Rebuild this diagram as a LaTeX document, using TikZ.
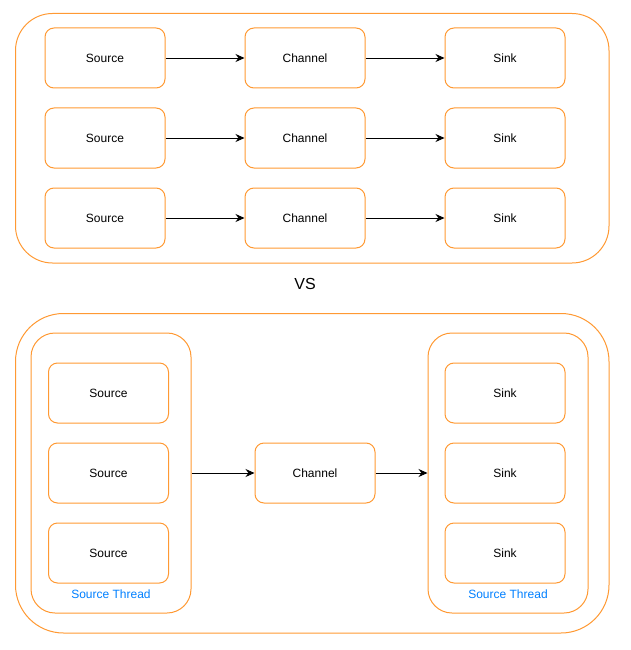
\documentclass[tikz,border=0pt]{standalone}
\usepackage{fontspec}
\setmainfont{Liberation Sans}
\usetikzlibrary{arrows.meta}
\definecolor{boxorange}{HTML}{FF9933}
\definecolor{threadblue}{HTML}{007FFF}
\begin{document}
\begin{tikzpicture}[x=1pt,y=-1pt,line width=1pt,
	box/.style={draw=boxorange,rounded corners=9pt,minimum width=120pt,minimum height=60pt,text depth=0pt,font=\fontsize{12}{14}\selectfont},
	thread/.style={draw=boxorange,rounded corners=24pt,minimum width=160pt,minimum height=280pt},
	flow/.style={-{Stealth[length=9pt,width=8pt,inset=3pt]},line width=0.9pt}]
		\useasboundingbox (0,0) rectangle (631,650);
		% one channel per source/sink pair
		\draw[boxorange,rounded corners=37pt] (15.5,13.5) rectangle (609,263);
		\foreach \r/\y in {1/58,2/138,3/218}{
			\node[box] (src\r) at (105,\y) {Source};
			\node[box] (ch\r) at (305,\y) {Channel};
			\node[box] (snk\r) at (505,\y) {Sink};
			\draw[flow] (src\r) -- (ch\r);
			\draw[flow] (ch\r) -- (snk\r);
		}
		\node[font=\fontsize{16}{19}\selectfont] (vs) at (305,284) {VS};
		% one shared channel between two threads
		\draw[boxorange,rounded corners=48pt] (15.5,313.5) rectangle (609,633);
		\node[thread] (srcth) at (111,473) {};
		\node[thread] (snkth) at (508,473) {};
		\foreach \r/\y in {1/393,2/473,3/553}{
			\node[box] (bsrc\r) at (108.5,\y) {Source};
			\node[box] (bsnk\r) at (505,\y) {Sink};
		}
		\node[box] (bch) at (315,473) {Channel};
		\node[text=threadblue,font=\fontsize{12}{14}\selectfont] (srclbl) at (111,594) {Source Thread};
		\node[text=threadblue,font=\fontsize{12}{14}\selectfont] (snklbl) at (508,594) {Source Thread};
		\draw[flow] (srcth) -- (bch);
		\draw[flow] (bch) -- (snkth);
\end{tikzpicture}
\end{document}
